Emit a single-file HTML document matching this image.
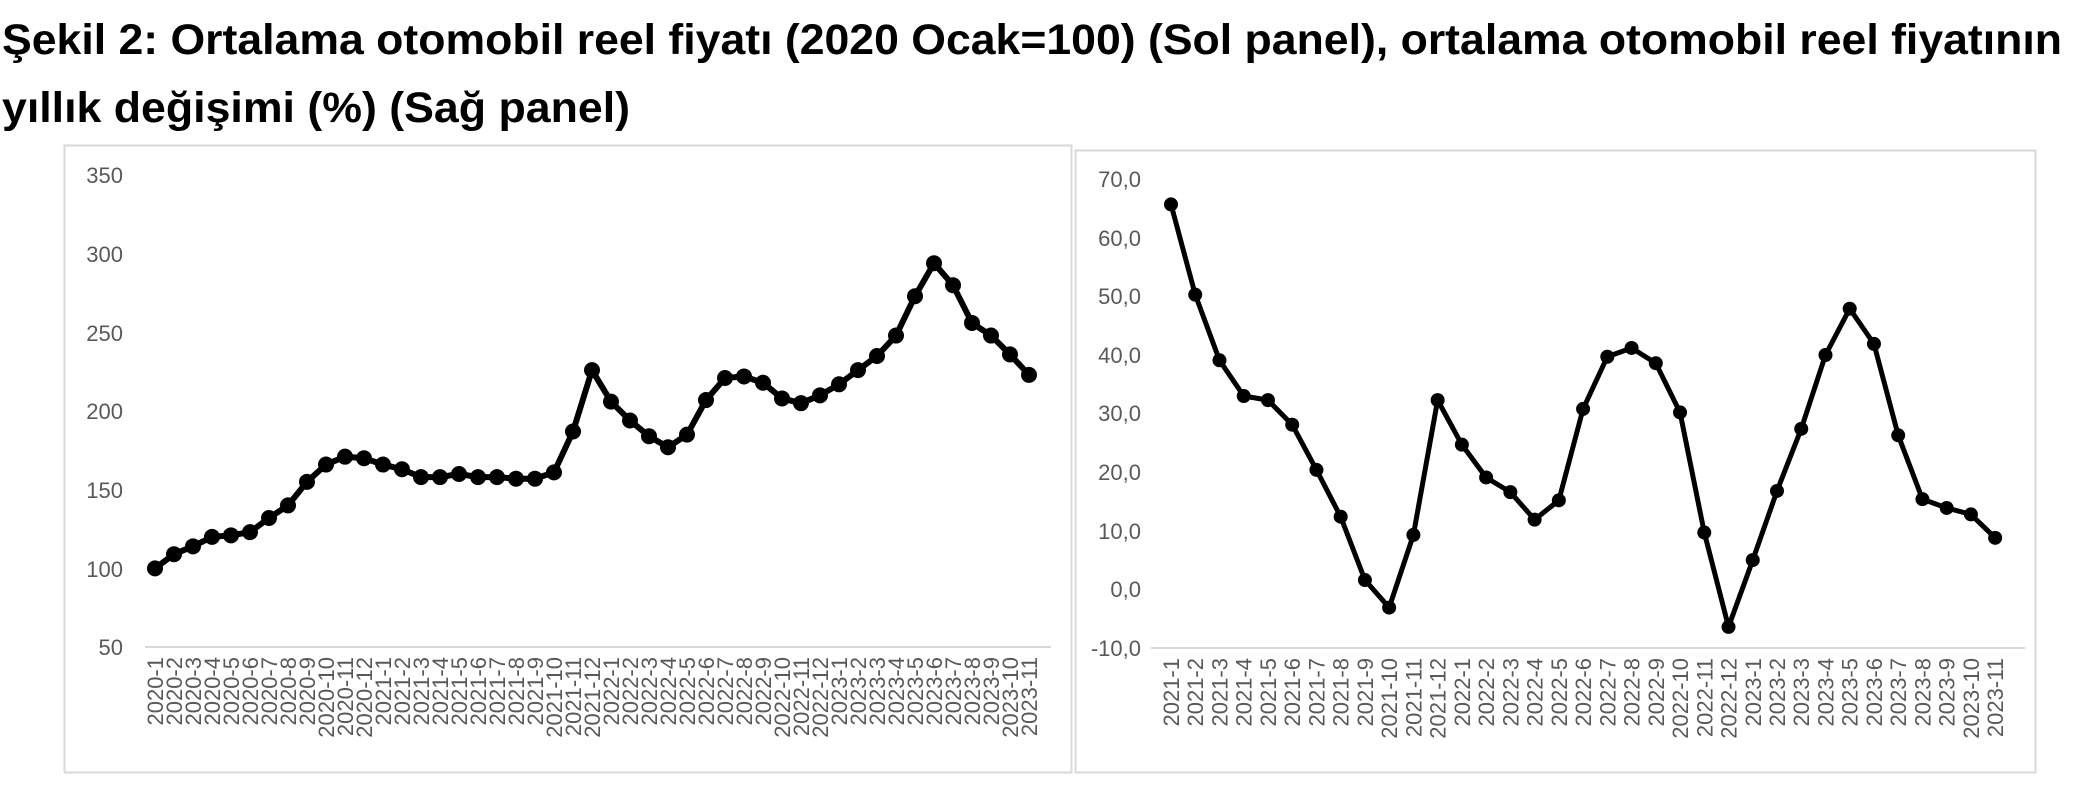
<!DOCTYPE html>
<html><head><meta charset="utf-8"><style>
html,body{margin:0;padding:0;background:#fff;}
svg{display:block;}
.t{font-family:"Liberation Sans",sans-serif;font-weight:bold;font-size:43px;fill:#000;}
.yl{font-family:"Liberation Sans",sans-serif;font-size:22px;fill:#595959;}
.xl{font-family:"Liberation Sans",sans-serif;font-size:22px;fill:#595959;}
</style></head><body>
<svg id="s" width="2099" height="798" xmlns="http://www.w3.org/2000/svg">
<text class="t" x="2" y="54" textLength="2060" lengthAdjust="spacingAndGlyphs">Şekil 2: Ortalama otomobil reel fiyatı (2020 Ocak=100) (Sol panel), ortalama otomobil reel fiyatının</text>
<text class="t" x="2" y="122" textLength="628" lengthAdjust="spacingAndGlyphs">yıllık değişimi (%) (Sağ panel)</text>
<rect x="64.5" y="145.5" width="1007" height="627" fill="none" stroke="#d9d9d9" stroke-width="2"/>
<rect x="1075.5" y="150.5" width="960" height="622" fill="none" stroke="#d9d9d9" stroke-width="2"/>
<line x1="145" y1="647" x2="1051" y2="647" stroke="#d9d9d9" stroke-width="2"/>
<line x1="1151" y1="648" x2="2025" y2="648" stroke="#d9d9d9" stroke-width="2"/>
<g class="yl" text-anchor="end">
<text x="123" y="183">350</text><text x="123" y="262">300</text><text x="123" y="341">250</text><text x="123" y="419">200</text><text x="123" y="498">150</text><text x="123" y="577">100</text><text x="123" y="655">50</text>
</g>
<g class="yl" text-anchor="end">
<text x="1141" y="187">70,0</text><text x="1141" y="246">60,0</text><text x="1141" y="304">50,0</text><text x="1141" y="363">40,0</text><text x="1141" y="421">30,0</text><text x="1141" y="480">20,0</text><text x="1141" y="539">10,0</text><text x="1141" y="597">0,0</text><text x="1141" y="656">-10,0</text>
</g>
<g id="lx" class="xl" text-anchor="end">
<text>2020-1</text><text>2020-2</text><text>2020-3</text><text>2020-4</text><text>2020-5</text><text>2020-6</text><text>2020-7</text><text>2020-8</text><text>2020-9</text><text>2020-10</text><text>2020-11</text><text>2020-12</text>
<text>2021-1</text><text>2021-2</text><text>2021-3</text><text>2021-4</text><text>2021-5</text><text>2021-6</text><text>2021-7</text><text>2021-8</text><text>2021-9</text><text>2021-10</text><text>2021-11</text><text>2021-12</text>
<text>2022-1</text><text>2022-2</text><text>2022-3</text><text>2022-4</text><text>2022-5</text><text>2022-6</text><text>2022-7</text><text>2022-8</text><text>2022-9</text><text>2022-10</text><text>2022-11</text><text>2022-12</text>
<text>2023-1</text><text>2023-2</text><text>2023-3</text><text>2023-4</text><text>2023-5</text><text>2023-6</text><text>2023-7</text><text>2023-8</text><text>2023-9</text><text>2023-10</text><text>2023-11</text>
</g>
<g id="rx" class="xl" text-anchor="end">
<text>2021-1</text><text>2021-2</text><text>2021-3</text><text>2021-4</text><text>2021-5</text><text>2021-6</text><text>2021-7</text><text>2021-8</text><text>2021-9</text><text>2021-10</text><text>2021-11</text><text>2021-12</text>
<text>2022-1</text><text>2022-2</text><text>2022-3</text><text>2022-4</text><text>2022-5</text><text>2022-6</text><text>2022-7</text><text>2022-8</text><text>2022-9</text><text>2022-10</text><text>2022-11</text><text>2022-12</text>
<text>2023-1</text><text>2023-2</text><text>2023-3</text><text>2023-4</text><text>2023-5</text><text>2023-6</text><text>2023-7</text><text>2023-8</text><text>2023-9</text><text>2023-10</text><text>2023-11</text>
</g>
<g id="g"></g>
</svg>
<script>
var NS="http://www.w3.org/2000/svg",g=document.getElementById("g");
function series(d,x0,dx,yf,lw,r){
 var pts=d.map(function(v,i){return [x0+i*dx,yf(v)];});
 var pl=document.createElementNS(NS,"polyline");
 pl.setAttribute("points",pts.map(function(p){return p.join(",");}).join(" "));
 pl.setAttribute("fill","none");pl.setAttribute("stroke","#000");pl.setAttribute("stroke-width",lw);pl.setAttribute("stroke-linejoin","round");
 g.appendChild(pl);
 pts.forEach(function(p){var c=document.createElementNS(NS,"circle");c.setAttribute("cx",p[0]);c.setAttribute("cy",p[1]);c.setAttribute("r",r);g.appendChild(c);});
}
function labels(id,x0,dx,y){
 var t=document.getElementById(id).children;
 for(var i=0;i<t.length;i++){var x=x0+i*dx+8;t[i].setAttribute("transform","translate("+x+","+y+") rotate(-90)");}
}
var L=[100,109,114,120,121,123,132,140,155,166,171,170,166,163,158,158,160,158,158,157,157,161,187,226,206,194,184,177,185,207,221,222,218,208,205,210,217,226,235,248,273,294,280,256,248,236,223];
var R=[65.7,50.3,39.1,33.0,32.3,28.1,20.4,12.4,1.6,-3.1,9.3,32.3,24.7,19.1,16.6,11.9,15.2,30.8,39.7,41.2,38.6,30.2,9.7,-6.4,5.0,16.8,27.4,40.0,47.9,41.9,26.3,15.4,13.9,12.8,8.8];
series(L,155,19.0,function(v){return 647-(v-50)*1.573;},6,8);
series(R,1171,24.24,function(v){return 648-(v+10)*5.86;},5,7);
labels("lx",155,19.0,657);
labels("rx",1171,24.24,658);
</script>
</body></html>
